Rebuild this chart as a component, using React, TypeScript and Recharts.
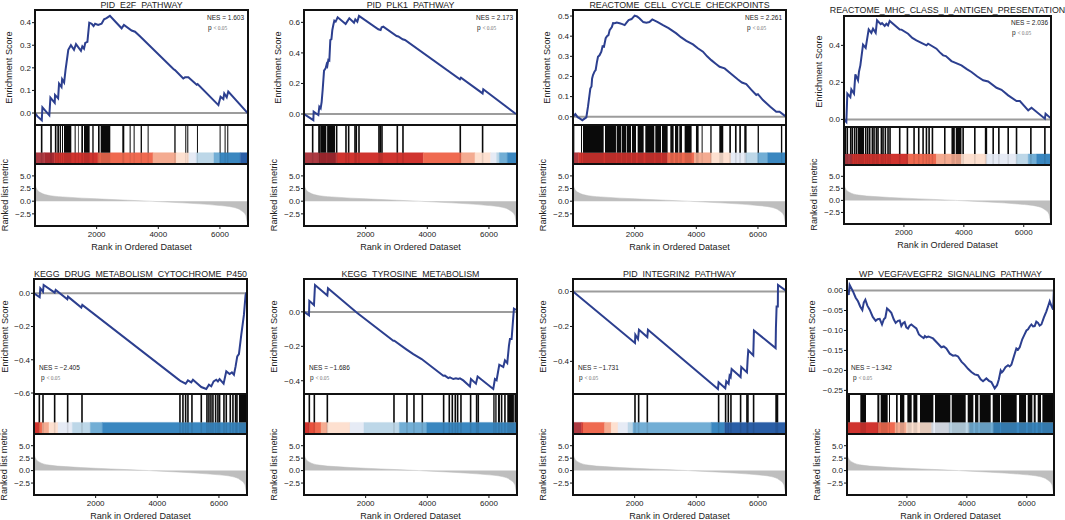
// GSEA enrichment plots, 2 rows of 4 panels
import React from "react";
import {
  LineChart,
  Line,
  AreaChart,
  Area,
  ComposedChart,
  XAxis,
  YAxis,
  ReferenceLine,
  ReferenceArea,
} from "recharts";

type Pt = [number, number];

// ranked list metric, the same gene list behind every panel
const metricRanks = [1, 40, 160, 490, 1030, 2000, 3000, 3730, 3800, 4800, 5900, 6430, 6700, 6840, 6880, 6905];
const metricValues = [3.3, 2.6, 1.75, 1.1, 0.8, 0.47, 0.2, 0, -0.02, -0.33, -0.8, -1.2, -1.9, -2.8, -4.0, -4.7];

const xTicks = [2000, 4000, 6000];
const metricTicks = [-2.5, 0, 2.5, 5];
const maxRank = 6910;

// colour ramp of the strip
const darkRed = "#ad3a42";
const deepRed = "#a62a31";
const red = "#d0342f";
const salmon = "#ef6a50";
const peach = "#f4ab91";
const blush = "#fde0d0";
const pale = "#e6ebf5";
const ice = "#bdd7e8";
const sky = "#72aed5";
const blue = "#3a87c0";
const navy = "#2a5ea6";

// PID_E2F_PATHWAY
const e2fCurve: Pt[] = [[1, 0], [80, -0.015], [220, -0.032], [240, 0.025], [465, -0.01], [500, 0.068], [640, 0.045], [650, 0.08], [750, 0.065], [780, 0.13], [860, 0.115], [880, 0.15], [945, 0.135], [990, 0.19], [1080, 0.28], [1165, 0.3], [1265, 0.28], [1330, 0.305], [1490, 0.275], [1535, 0.295], [1590, 0.285], [1630, 0.31], [1700, 0.315], [1760, 0.4], [1840, 0.395], [1900, 0.385], [1950, 0.395], [2050, 0.39], [2160, 0.395], [2240, 0.415], [2320, 0.42], [2430, 0.43], [2810, 0.375], [2885, 0.39], [3135, 0.365], [3245, 0.36], [3405, 0.34], [4490, 0.195], [4540, 0.19], [4810, 0.153], [4865, 0.158], [4975, 0.158], [5245, 0.125], [5275, 0.128], [5950, 0.035], [6020, 0.072], [6110, 0.062], [6140, 0.087], [6220, 0.07], [6270, 0.095], [6900, 0]];
const e2fHits = [216, 519, 670];
const e2fBlocks: Pt[] = [[724, 778], [800, 843], [876, 908], [940, 1178], [1286, 1319], [1394, 1416], [1503, 1557], [1589, 1773], [1859, 1903], [2043, 2097], [2130, 2443], [2832, 2897], [3070, 3103], [3200, 3232], [3427, 3470], [3654, 3686], [4519, 4562], [4875, 4908], [4940, 4973], [5254, 5286], [5989, 6021], [6151, 6183], [6237, 6270]];
const e2fEdges = [0, 313, 638, 2043, 3827, 4584, 4994, 5232, 5805, 5989, 6659, 6910];
const e2fColors = [darkRed, deepRed, red, salmon, peach, blush, pale, ice, sky, blue, navy];

// PID_PLK1_PATHWAY
const plk1Curve: Pt[] = [[1, 0], [303, -0.04], [313, 0.015], [465, -0.007], [497, 0.048], [540, 0.037], [573, 0.08], [605, 0.157], [650, 0.284], [703, 0.3], [735, 0.325], [757, 0.315], [789, 0.354], [822, 0.35], [854, 0.485], [890, 0.49], [919, 0.55], [951, 0.583], [984, 0.611], [1027, 0.605], [1092, 0.633], [1351, 0.59], [1470, 0.627], [1622, 0.598], [1665, 0.62], [1730, 0.605], [1784, 0.642], [2411, 0.555], [2486, 0.55], [2519, 0.568], [2573, 0.572], [3005, 0.511], [3060, 0.508], [3200, 0.489], [3276, 0.485], [5059, 0.227], [5092, 0.238], [5794, 0.135], [5816, 0.162], [6875, 0]];
const plk1Hits = [281, 486, 519, 1059, 1362, 1449, 1654, 1697, 1784, 2432, 2476, 2530, 3027, 3211, 5070, 5794];
const plk1Blocks: Pt[] = [[551, 725], [750, 1005]];
const plk1Edges = [0, 465, 1059, 3870, 5113, 5546, 6054, 6248, 6335, 6594, 6910];
const plk1Colors = [darkRed, deepRed, red, salmon, peach, blush, pale, ice, sky, blue];

// REACTOME_CELL_CYCLE_CHECKPOINTS
const cellCycleCurve: Pt[] = [[1, 0], [76, 0.013], [150, -0.002], [216, -0.008], [303, -0.017], [432, -0.003], [486, 0.05], [562, 0.14], [600, 0.15], [620, 0.19], [649, 0.207], [700, 0.225], [735, 0.232], [775, 0.27], [811, 0.298], [860, 0.305], [919, 0.323], [960, 0.35], [1005, 0.348], [1060, 0.39], [1103, 0.4], [1150, 0.405], [1189, 0.43], [1260, 0.445], [1300, 0.465], [1351, 0.464], [1420, 0.468], [1514, 0.464], [1600, 0.46], [1676, 0.455], [1750, 0.47], [1805, 0.48], [1900, 0.485], [2000, 0.502], [2080, 0.498], [2162, 0.488], [2280, 0.47], [2378, 0.467], [2480, 0.47], [2573, 0.483], [2750, 0.47], [2919, 0.455], [3100, 0.44], [3351, 0.414], [3500, 0.395], [3676, 0.377], [3892, 0.359], [4050, 0.34], [4216, 0.323], [4350, 0.3], [4486, 0.281], [4640, 0.262], [4757, 0.248], [4919, 0.24], [5135, 0.212], [5351, 0.185], [5480, 0.17], [5621, 0.162], [5780, 0.135], [5946, 0.108], [6000, 0.112], [6162, 0.083], [6400, 0.05], [6594, 0.025], [6702, 0.025], [6886, 0.003]];
const cellCycleHits: number[] = [];
const cellCycleBlocks: Pt[] = [[11, 43], [259, 292], [324, 995], [1038, 1394], [1416, 1557], [1578, 1719], [1740, 1881], [1913, 2043], [2097, 2292], [2346, 2638], [2670, 2854], [2886, 3070], [3157, 3265], [3308, 3416], [3448, 3535], [3621, 3848], [3989, 4075], [4173, 4205], [4454, 4497], [4746, 4875], [5070, 5124], [5254, 5308], [5394, 5448], [5556, 5632], [5989, 6032], [6745, 6789]];
const cellCycleEdges = [0, 173, 3070, 3935, 4497, 5124, 5610, 5989, 6313, 6910];
const cellCycleColors = [darkRed, red, salmon, peach, blush, pale, ice, sky, blue];

// REACTOME_MHC_CLASS_II_ANTIGEN_PRESENTATION
const mhcCurve: Pt[] = [[1, 0], [78, -0.014], [111, 0.139], [212, 0.12], [245, 0.162], [334, 0.139], [379, 0.243], [468, 0.211], [501, 0.259], [546, 0.292], [635, 0.404], [724, 0.386], [824, 0.486], [913, 0.467], [969, 0.49], [1058, 0.468], [1103, 0.535], [1225, 0.514], [1270, 0.52], [1359, 0.505], [1415, 0.517], [1470, 0.508], [1526, 0.532], [1860, 0.486], [1920, 0.485], [2139, 0.463], [2280, 0.44], [2417, 0.427], [2600, 0.412], [2752, 0.4], [2807, 0.409], [3086, 0.382], [3200, 0.362], [3309, 0.346], [3400, 0.342], [3587, 0.315], [3921, 0.292], [4100, 0.272], [4255, 0.256], [4450, 0.232], [4645, 0.211], [4812, 0.205], [5091, 0.171], [5258, 0.16], [5481, 0.13], [5759, 0.099], [5871, 0.099], [6149, 0.049], [6260, 0.063], [6706, 0.004], [6729, 0.031], [6896, 0.007]];
const mhcHits = [45, 111, 223, 278, 356, 423, 724, 791, 858, 947, 1003, 1081, 1136, 1248, 1303, 1381, 1470, 1537, 1860, 2117, 2339, 2495, 2640, 2752, 2841, 2952, 3364, 3977, 4367, 4980, 5169, 5481, 5759, 6238, 6706];
const mhcBlocks: Pt[] = [[468, 668], [3587, 3700], [3730, 3921], [4701, 4779]];
const mhcEdges = [0, 267, 2139, 3086, 3921, 4757, 5759, 6149, 6428, 6910];
const mhcColors = [darkRed, red, salmon, peach, blush, pale, ice, sky, blue];

// KEGG_DRUG_METABOLISM_CYTOCHROME_P450
const drugCurve: Pt[] = [[1, 0], [184, -0.024], [205, 0.03], [292, 0.01], [313, 0.05], [670, 0.004], [703, 0.02], [1081, -0.036], [1103, -0.02], [1535, -0.086], [1567, -0.07], [4724, -0.524], [4778, -0.53], [4919, -0.544], [4994, -0.524], [5102, -0.536], [5157, -0.52], [5427, -0.564], [5589, -0.576], [5675, -0.55], [5751, -0.56], [5827, -0.53], [5913, -0.52], [5967, -0.53], [6021, -0.516], [6151, -0.544], [6238, -0.47], [6346, -0.486], [6420, -0.476], [6486, -0.49], [6540, -0.44], [6594, -0.38], [6648, -0.366], [6724, -0.25], [6810, -0.13], [6864, -0.01], [6897, 0.006]];
const drugHits = [173, 292, 670, 1092, 1557, 4735, 4832, 4919, 4994, 5124, 5427, 5611, 5675, 5740, 5805, 5892, 5967, 6021, 6162, 6238, 6367, 6454, 6540, 6584];
const drugBlocks: Pt[] = [[6648, 6910]];
const drugEdges = [0, 162, 270, 486, 778, 1243, 1827, 2216, 6910];
const drugColors = [red, salmon, peach, blush, pale, ice, sky, blue];

// KEGG_TYROSINE_METABOLISM
const tyrosineCurve: Pt[] = [[1, 0], [162, -0.02], [173, 0.064], [324, 0.04], [357, 0.156], [757, 0.095], [778, 0.137], [1708, -0.004], [2897, -0.168], [2930, -0.168], [3308, -0.216], [3546, -0.245], [3816, -0.274], [4519, -0.371], [4570, -0.37], [4681, -0.385], [4735, -0.38], [4843, -0.39], [4930, -0.386], [5005, -0.39], [5060, -0.386], [5167, -0.398], [5383, -0.433], [5416, -0.39], [5578, -0.417], [5632, -0.375], [6140, -0.448], [6194, -0.39], [6248, -0.397], [6335, -0.307], [6465, -0.32], [6519, -0.282], [6594, -0.297], [6648, -0.197], [6681, -0.158], [6735, -0.158], [6810, 0.019], [6875, 0.012]];
const tyrosineHits = [173, 335, 757, 2919, 3340, 3567, 3838, 4530, 4713, 4811, 4908, 4984, 5092, 5405, 5600, 5654, 6411, 6519, 6854];
const tyrosineBlocks: Pt[] = [[6140, 6184], [6205, 6248], [6292, 6357], [6594, 6810]];
const tyrosineEdges = [0, 173, 357, 551, 757, 1492, 1946, 3092, 3978, 6910];
const tyrosineColors = [red, "#e8503c", salmon, peach, blush, pale, ice, sky, blue];

// PID_INTEGRIN2_PATHWAY
const integrinCurve: Pt[] = [[1, 0], [2011, -0.295], [2022, -0.248], [2108, -0.272], [2140, -0.219], [2411, -0.261], [2432, -0.219], [4702, -0.558], [4724, -0.52], [4940, -0.554], [4973, -0.514], [5048, -0.528], [5081, -0.482], [5114, -0.49], [5146, -0.444], [5437, -0.49], [5459, -0.432], [5643, -0.463], [5665, -0.39], [5686, -0.337], [5848, -0.366], [5870, -0.223], [6573, -0.324], [6583, -0.21], [6605, -0.086], [6645, -0.086], [6650, 0.038], [6897, 0.006]];
const integrinHits = [2011, 2130, 2411, 4724, 4951, 5038, 5124, 5437, 5643, 5675, 5859];
const integrinBlocks: Pt[] = [[6562, 6659]];
const integrinEdges = [0, 270, 324, 1027, 1243, 1459, 1784, 1946, 4486, 4919, 6910];
const integrinColors = [darkRed, red, salmon, peach, blush, pale, ice, sky, blue, navy];

// WP_VEGFAVEGFR2_SIGNALING_PATHWAY
const vegfCurve: Pt[] = [[1, 0], [56, -0.011], [89, 0.014], [200, -0.002], [290, -0.018], [367, -0.027], [440, -0.04], [512, -0.049], [560, -0.03], [612, -0.023], [680, -0.038], [757, -0.048], [860, -0.066], [957, -0.076], [1020, -0.072], [1091, -0.071], [1169, -0.085], [1230, -0.072], [1280, -0.068], [1336, -0.045], [1410, -0.05], [1480, -0.056], [1560, -0.072], [1625, -0.081], [1700, -0.076], [1760, -0.075], [1814, -0.089], [1870, -0.082], [1925, -0.079], [1980, -0.092], [2037, -0.095], [2090, -0.088], [2148, -0.085], [2230, -0.09], [2315, -0.095], [2400, -0.11], [2482, -0.115], [2560, -0.119], [2600, -0.114], [2649, -0.117], [2720, -0.115], [2871, -0.12], [3000, -0.13], [3150, -0.142], [3230, -0.14], [3317, -0.145], [3430, -0.158], [3539, -0.163], [3620, -0.162], [3706, -0.165], [3820, -0.178], [3929, -0.186], [4040, -0.196], [4151, -0.204], [4260, -0.21], [4374, -0.212], [4460, -0.222], [4541, -0.227], [4652, -0.22], [4740, -0.226], [4819, -0.229], [4931, -0.245], [5009, -0.237], [5070, -0.222], [5131, -0.2], [5170, -0.205], [5209, -0.202], [5290, -0.192], [5376, -0.187], [5430, -0.19], [5487, -0.186], [5570, -0.165], [5654, -0.145], [5710, -0.148], [5765, -0.142], [5850, -0.122], [5932, -0.109], [5990, -0.1], [6044, -0.097], [6100, -0.09], [6155, -0.085], [6210, -0.09], [6266, -0.089], [6320, -0.078], [6377, -0.081], [6430, -0.088], [6489, -0.085], [6570, -0.068], [6656, -0.052], [6710, -0.04], [6767, -0.027], [6820, -0.038], [6880, -0.048], [6905, 0]];
const vegfHits: number[] = [];
const vegfBlocks: Pt[] = [[0, 100], [445, 634], [1013, 1080], [1124, 1358], [1402, 1436], [1636, 1692], [1770, 1914], [2014, 2159], [2215, 2348], [2437, 2883], [2938, 3450], [3495, 3962], [4029, 4218], [4274, 4385], [4430, 4797], [4864, 5109], [5142, 5665], [5743, 5977], [6032, 6188], [6233, 6299], [6366, 6477], [6522, 6910]];
const vegfEdges = [0, 1046, 1603, 1992, 2826, 3405, 4084, 4886, 6910];
const vegfColors = [red, salmon, peach, blush, pale, ice, sky, blue];

const panels = [
  { title: "PID_E2F_PATHWAY", nes: "1.603", curve: e2fCurve, hits: e2fHits, blocks: e2fBlocks, edges: e2fEdges, colors: e2fColors, domain: [-0.053, 0.456], ticks: [0, 0.1, 0.2, 0.3, 0.4], digits: 1 },
  { title: "PID_PLK1_PATHWAY", nes: "2.173", curve: plk1Curve, hits: plk1Hits, blocks: plk1Blocks, edges: plk1Edges, colors: plk1Colors, domain: [-0.072, 0.681], ticks: [0, 0.2, 0.4, 0.6], digits: 1 },
  { title: "REACTOME_CELL_CYCLE_CHECKPOINTS", nes: "2.261", curve: cellCycleCurve, hits: cellCycleHits, blocks: cellCycleBlocks, edges: cellCycleEdges, colors: cellCycleColors, domain: [-0.041, 0.53], ticks: [0, 0.1, 0.2, 0.3, 0.4, 0.5], digits: 1 },
  { title: "REACTOME_MHC_CLASS_II_ANTIGEN_PRESENTATION", nes: "2.036", curve: mhcCurve, hits: mhcHits, blocks: mhcBlocks, edges: mhcEdges, colors: mhcColors, domain: [-0.041, 0.5586], ticks: [0, 0.2, 0.4], digits: 1 },
  { title: "KEGG_DRUG_METABOLISM_CYTOCHROME_P450", nes: "−2.405", curve: drugCurve, hits: drugHits, blocks: drugBlocks, edges: drugEdges, colors: drugColors, domain: [-0.606, 0.086], ticks: [-0.6, -0.4, -0.2, 0], digits: 1 },
  { title: "KEGG_TYROSINE_METABOLISM", nes: "−1.686", curve: tyrosineCurve, hits: tyrosineHits, blocks: tyrosineBlocks, edges: tyrosineEdges, colors: tyrosineColors, domain: [-0.477, 0.191], ticks: [-0.4, -0.2, 0], digits: 1 },
  { title: "PID_INTEGRIN2_PATHWAY", nes: "−1.731", curve: integrinCurve, hits: integrinHits, blocks: integrinBlocks, edges: integrinEdges, colors: integrinColors, domain: [-0.587, 0.072], ticks: [-0.4, -0.2, 0], digits: 1 },
  { title: "WP_VEGFAVEGFR2_SIGNALING_PATHWAY", nes: "−1.342", curve: vegfCurve, hits: vegfHits, blocks: vegfBlocks, edges: vegfEdges, colors: vegfColors, domain: [-0.259, 0.0288], ticks: [-0.25, -0.2, -0.15, -0.1, -0.05, 0], digits: 2 },
];

// pixel layout of each panel
const layouts = [
  { l: 35, r: 248, top: 10, mid: 125, bot: 164, end: 226, titleY: 5, esOff: 26, nesX: 207, pX: 208, nesY: 18 },
  { l: 304, r: 517, top: 10, mid: 125, bot: 164, end: 226, titleY: 5, esOff: 26, nesX: 476, pX: 477, nesY: 18 },
  { l: 573, r: 786, top: 10, mid: 125, bot: 164, end: 226, titleY: 5, esOff: 26, nesX: 745, pX: 747, nesY: 18 },
  { l: 844, r: 1051, top: 16, mid: 127, bot: 165, end: 224, titleY: 10, esOff: 25, nesX: 1011, pX: 1012, nesY: 23 },
  { l: 34, r: 247, top: 279, mid: 394, bot: 434, end: 495, titleY: 274, esOff: 29, nesX: 39, pX: 41, nesY: 368 },
  { l: 304, r: 517, top: 279, mid: 394, bot: 434, end: 495, titleY: 274, esOff: 30, nesX: 309, pX: 310, nesY: 368 },
  { l: 573, r: 786, top: 279, mid: 394, bot: 434, end: 495, titleY: 274, esOff: 30, nesX: 578, pX: 579, nesY: 368 },
  { l: 847, r: 1054, top: 279, mid: 394, bot: 434, end: 495, titleY: 274, esOff: 35, nesX: 851, pX: 853, nesY: 368 },
];

const font = '"Liberation Sans", Arial, sans-serif';
const axisW = 40;
const heatShare = 0.29;
const tickStyle = { fontSize: 8, fill: "#222", fontFamily: font };
const labelStyle = { fontSize: 9.1, fill: "#222", fontFamily: font, textAnchor: "middle" as const };

const fmt = (v: number, digits: number) => v.toFixed(digits).replace("-", "−");
const metricData = metricRanks.map((rank, i) => ({ rank, value: metricValues[i] }));

const Frame = ({ x, y, w, h }: { x: number; y: number; w: number; h: number }) => (
  <div style={{ position: "absolute", left: x - 1, top: y - 1, width: w + 2, height: h + 2, border: "2px solid #111", boxSizing: "border-box", pointerEvents: "none" }} />
);

const Panel = ({ p, g }: { p: (typeof panels)[number]; g: (typeof layouts)[number] }) => {
  const plotW = g.r - g.l;
  const chartW = plotW + axisW;
  const left = g.l - axisW;
  const esData = p.curve.map(([rank, es]) => ({ rank, es }));
  return (
    <>
      <div style={{ position: "absolute", left: g.l - 40, width: plotW + 80, top: g.titleY - 7, height: 14, lineHeight: "14px", textAlign: "center", fontSize: 8.85, color: "#222", fontFamily: font, whiteSpace: "nowrap" }}>
        {p.title}
      </div>

      <div style={{ position: "absolute", left, top: g.top }}>
        <LineChart width={chartW} height={g.mid - g.top} data={esData} margin={{ top: 0, right: 0, bottom: 0, left: 0 }}>
          <XAxis dataKey="rank" type="number" domain={[0, maxRank]} hide allowDataOverflow />
          <YAxis
            type="number"
            width={axisW}
            domain={p.domain}
            ticks={p.ticks}
            interval={0}
            allowDataOverflow
            axisLine={false}
            tickSize={3}
            tickMargin={1}
            tickLine={{ stroke: "#111" }}
            tick={tickStyle}
            tickFormatter={(v: number) => fmt(v, p.digits)}
            label={{ value: "Enrichment Score", angle: -90, position: "insideLeft", offset: axisW - g.esOff, style: labelStyle }}
          />
          <ReferenceLine y={0} stroke="#9c9c9c" strokeWidth={2} />
          <Line dataKey="es" type="linear" stroke="#2c3f8f" strokeWidth={2} dot={false} isAnimationActive={false} />
        </LineChart>
      </div>

      <div style={{ position: "absolute", left, top: g.mid }}>
        <ComposedChart width={chartW} height={g.bot - g.mid} data={[{ rank: 0 }, { rank: maxRank }]} margin={{ top: 0, right: 0, bottom: 0, left: 0 }}>
          <XAxis dataKey="rank" type="number" domain={[0, maxRank]} hide allowDataOverflow />
          <YAxis type="number" width={axisW} domain={[0, 1]} ticks={[]} axisLine={false} tickLine={false} allowDataOverflow />
          {p.colors.map((c, i) => (
            <ReferenceArea key={"b" + i} x1={p.edges[i]} x2={p.edges[i + 1]} y1={0} y2={heatShare} fill={c} fillOpacity={1} stroke={c} strokeWidth={0.4} />
          ))}
          {/* the hits also show faintly through the strip */}
          {p.blocks.map(([a, b], i) => (
            <ReferenceArea key={"s" + i} x1={a} x2={b} y1={0} y2={heatShare} fill="#000" fillOpacity={0.1} strokeWidth={0} />
          ))}
          {p.hits.map((h) => (
            <ReferenceLine key={"t" + h} segment={[{ x: h, y: 0 }, { x: h, y: heatShare }]} stroke="#000" strokeOpacity={0.1} strokeWidth={1.6} />
          ))}
          {p.blocks.map(([a, b], i) => (
            <ReferenceArea key={"k" + i} x1={a} x2={b} y1={heatShare} y2={1} fill="#0a0a0a" fillOpacity={1} strokeWidth={0} />
          ))}
          {p.hits.map((h) => (
            <ReferenceLine key={h} segment={[{ x: h, y: heatShare }, { x: h, y: 1 }]} stroke="#0a0a0a" strokeWidth={1.6} />
          ))}
        </ComposedChart>
      </div>

      <div style={{ position: "absolute", left, top: g.bot }}>
        <AreaChart width={chartW} height={g.end - g.bot + 30} data={metricData} margin={{ top: 0, right: 0, bottom: 0, left: 0 }}>
          <XAxis
            dataKey="rank"
            type="number"
            domain={[0, maxRank]}
            ticks={xTicks}
            height={30}
            allowDataOverflow
            axisLine={false}
            tickSize={3}
            tickMargin={2}
            tickLine={{ stroke: "#111" }}
            tick={tickStyle}
            label={{ value: "Rank in Ordered Dataset", position: "insideBottom", offset: 6, style: labelStyle }}
          />
          <YAxis
            type="number"
            width={axisW}
            domain={[-4.9, 7.35]}
            ticks={metricTicks}
            interval={0}
            allowDataOverflow
            axisLine={false}
            tickSize={3}
            tickMargin={1}
            tickLine={{ stroke: "#111" }}
            tick={tickStyle}
            tickFormatter={(v: number) => fmt(v, 1)}
            label={{ value: "Ranked list metric", angle: -90, position: "insideLeft", offset: axisW - 30, style: labelStyle }}
          />
          <Area dataKey="value" type="monotone" baseValue={0} stroke="#bdbdbd" strokeWidth={0.5} fill="#bebebe" fillOpacity={1} isAnimationActive={false} />
        </AreaChart>
      </div>

      <Frame x={g.l} y={g.top} w={plotW} h={g.mid - g.top} />
      <Frame x={g.l} y={g.mid} w={plotW} h={g.bot - g.mid} />
      <Frame x={g.l} y={g.bot} w={plotW} h={g.end - g.bot} />

      <div style={{ position: "absolute", left: g.nesX, top: g.nesY - 5, lineHeight: "10px", fontSize: 6.5, color: "#222", fontFamily: font, whiteSpace: "nowrap" }}>
        NES = {p.nes}
      </div>
      <div style={{ position: "absolute", left: g.pX, top: g.nesY + 5, lineHeight: "10px", fontSize: 6.5, color: "#222", fontFamily: font, whiteSpace: "nowrap" }}>
        p <span style={{ fontFamily: '"Liberation Serif", serif', fontSize: 5.4, color: "#777" }}>&lt; 0.05</span>
      </div>
    </>
  );
};

export default function App() {
  return (
    <div style={{ position: "absolute", left: 0, top: 0, width: 1065, height: 520, background: "#fff", overflow: "hidden" }}>
      <style>{".recharts-surface{overflow:visible}"}</style>
      {panels.map((p, i) => (
        <Panel key={p.title} p={p} g={layouts[i]} />
      ))}
    </div>
  );
}
